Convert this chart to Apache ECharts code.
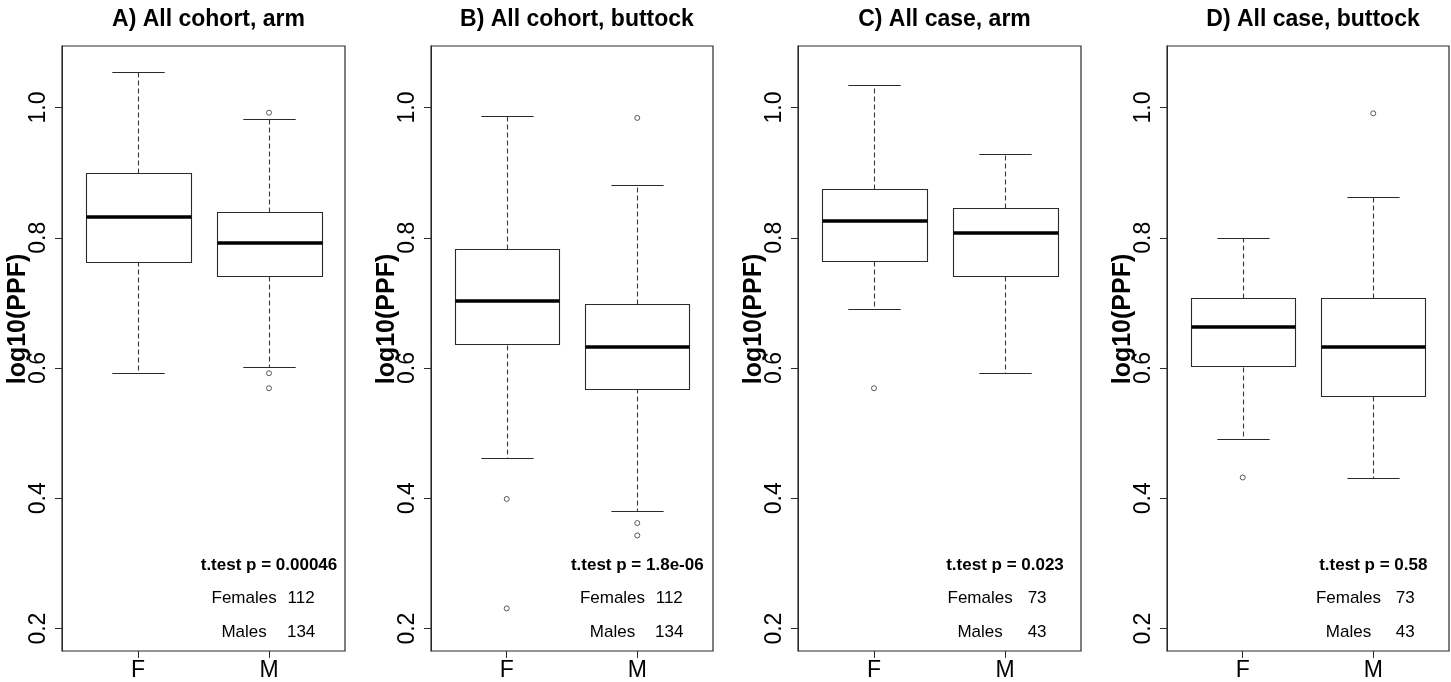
<!DOCTYPE html>
<html><head><meta charset="utf-8">
<script src="https://cdn.jsdelivr.net/npm/echarts@6/dist/echarts.min.js"></script>
<style>html,body{margin:0;padding:0;background:#fff}#c{width:1451px;height:682px}</style>
</head><body><div id="c"></div>
<script>
// ---------------- data ----------------
const categories = ['F', 'M'];
const panelTitles = ['A) All cohort, arm', 'B) All cohort, buttock', 'C) All case, arm', 'D) All case, buttock'];
const yTicks = [0.2, 0.4, 0.6, 0.8, 1.0];
const yLabel = 'log10(PPF)';

// [lower whisker, Q1, median, Q3, upper whisker]
const cohortArmF = [0.592, 0.764, 0.832, 0.900, 1.055];
const cohortArmM = [0.602, 0.741, 0.792, 0.839, 0.983];
const cohortArmOutF = [];
const cohortArmOutM = [0.992, 0.592, 0.569];

const cohortButtockF = [0.462, 0.636, 0.703, 0.782, 0.987];
const cohortButtockM = [0.380, 0.569, 0.633, 0.699, 0.881];
const cohortButtockOutF = [0.399, 0.231];
const cohortButtockOutM = [0.984, 0.362, 0.343];

const caseArmF = [0.691, 0.764, 0.826, 0.875, 1.034];
const caseArmM = [0.592, 0.741, 0.807, 0.845, 0.929];
const caseArmOutF = [0.569];
const caseArmOutM = [];

const caseButtockF = [0.491, 0.602, 0.663, 0.707, 0.799];
const caseButtockM = [0.431, 0.557, 0.633, 0.707, 0.863];
const caseButtockOutF = [0.432];
const caseButtockOutM = [0.991];

const pValues = ['0.00046', '1.8e-06', '0.023', '0.58'];
const femalesN = [112, 112, 73, 73];
const malesN = [134, 134, 43, 43];

// ---------------- layout ----------------
const FONT = "'Liberation Sans', Arial, Helvetica, sans-serif";
const gridLeft = [62, 431, 798, 1167];
const gridWidth = [283, 282, 283, 282];
const gridTop = 46, gridHeight = 609;
const yMin = 0.1656, yMax = 1.0944;
const xMin = 0.42, xMax = 2.58;
const LINE = '#2a2a2a';

const panels = [
  { f: cohortArmF, m: cohortArmM, of: cohortArmOutF, om: cohortArmOutM },
  { f: cohortButtockF, m: cohortButtockM, of: cohortButtockOutF, om: cohortButtockOutM },
  { f: caseArmF, m: caseArmM, of: caseArmOutF, om: caseArmOutM },
  { f: caseButtockF, m: caseButtockM, of: caseButtockOutF, om: caseButtockOutM }
];

function crisp(v) { return Math.round(v) + 0.5; }

function renderBox(params, api) {
  const x = api.value(0);
  const lo = api.coord([x, api.value(1)]);
  const q1 = api.coord([x, api.value(2)]);
  const md = api.coord([x, api.value(3)]);
  const q3 = api.coord([x, api.value(4)]);
  const hi = api.coord([x, api.value(5)]);
  const unit = api.size([1, 0])[0];
  const cx = crisp(lo[0]);
  const hw = unit * 0.4, cw = unit * 0.2;
  const solid = { stroke: LINE, lineWidth: 1.1, fill: null };
  const dashed = { stroke: '#3a3a3a', lineWidth: 1.1, lineDash: [5, 3], fill: null };
  return {
    type: 'group',
    children: [
      { type: 'line', shape: { x1: cx, y1: crisp(q3[1]), x2: cx, y2: crisp(hi[1]) }, style: dashed },
      { type: 'line', shape: { x1: cx, y1: crisp(q1[1]), x2: cx, y2: crisp(lo[1]) }, style: dashed },
      { type: 'line', shape: { x1: cx - cw, y1: crisp(hi[1]), x2: cx + cw, y2: crisp(hi[1]) }, style: solid },
      { type: 'line', shape: { x1: cx - cw, y1: crisp(lo[1]), x2: cx + cw, y2: crisp(lo[1]) }, style: solid },
      { type: 'rect', shape: { x: crisp(cx - hw), y: crisp(q3[1]), width: Math.round(2 * hw), height: Math.round(q1[1] - q3[1]) },
        style: { stroke: LINE, lineWidth: 1.1, fill: '#fff' } },
      { type: 'line', shape: { x1: crisp(cx - hw), y1: Math.round(md[1]), x2: crisp(cx - hw) + Math.round(2 * hw), y2: Math.round(md[1]) },
        style: { stroke: '#000', lineWidth: 3.5 } }
    ]
  };
}

function makeAnnot(i) {
  return function (params, api) {
    const t = api.coord([2, 0.297]);
    const fl = api.coord([1.81, 0.246]);
    const fn = api.coord([2.245, 0.246]);
    const ml = api.coord([1.81, 0.195]);
    const mn = api.coord([2.245, 0.195]);
    const base = { fill: '#000', align: 'center', verticalAlign: 'middle', fontFamily: FONT, fontSize: 17 };
    return {
      type: 'group',
      children: [
        { type: 'text', x: t[0], y: t[1], style: Object.assign({}, base, { text: 't.test p = ' + pValues[i], fontWeight: 'bold' }) },
        { type: 'text', x: fl[0], y: fl[1], style: Object.assign({}, base, { text: 'Females' }) },
        { type: 'text', x: fn[0], y: fn[1], style: Object.assign({}, base, { text: String(femalesN[i]) }) },
        { type: 'text', x: ml[0], y: ml[1], style: Object.assign({}, base, { text: 'Males' }) },
        { type: 'text', x: mn[0], y: mn[1], style: Object.assign({}, base, { text: String(malesN[i]) }) }
      ]
    };
  };
}

const grids = [], xAxes = [], yAxes = [], series = [], titles = [], graphics = [];
panels.forEach((p, i) => {
  grids.push({ left: gridLeft[i], top: gridTop, width: gridWidth[i], height: gridHeight,
    show: true, borderColor: LINE, borderWidth: 1.2, backgroundColor: 'transparent', containLabel: false });
  xAxes.push({
    type: 'value', gridIndex: i, min: xMin, max: xMax,
    splitLine: { show: false },
    axisLine: { show: false },
    axisTick: { show: true, customValues: [1, 2], length: 7, lineStyle: { color: LINE, width: 1 } },
    axisLabel: { show: true, customValues: [1, 2], formatter: v => categories[Math.round(v) - 1],
      fontSize: 23, color: '#000', fontFamily: FONT, margin: 8 }
  });
  yAxes.push({
    type: 'value', gridIndex: i, min: yMin, max: yMax,
    splitLine: { show: false },
    axisLine: { show: true, lineStyle: { color: LINE, width: 1 } },
    axisTick: { show: true, customValues: yTicks, length: 7, lineStyle: { color: LINE, width: 1 } },
    axisLabel: { show: true, customValues: yTicks, formatter: v => v.toFixed(1), rotate: 90,
      fontSize: 23, color: '#000', fontFamily: FONT, margin: 12 }
  });
  series.push({
    type: 'custom', xAxisIndex: i, yAxisIndex: i, renderItem: renderBox, clip: false,
    encode: { x: 0, y: [1, 2, 3, 4, 5] },
    data: [[1].concat(p.f), [2].concat(p.m)], silent: true, z: 2
  });
  series.push({
    type: 'scatter', xAxisIndex: i, yAxisIndex: i, symbol: 'circle', symbolSize: 5,
    itemStyle: { color: '#fff', borderColor: '#333', borderWidth: 1 },
    data: p.of.map(v => [1, v]).concat(p.om.map(v => [2, v])), silent: true, z: 5
  });
  series.push({
    type: 'custom', xAxisIndex: i, yAxisIndex: i, renderItem: makeAnnot(i), clip: false,
    data: [[2, 0.3]], silent: true, z: 4
  });
  titles.push({
    text: panelTitles[i], left: gridLeft[i] + gridWidth[i] / 2, top: 3, textAlign: 'center',
    textStyle: { fontSize: 23, fontWeight: 'bold', color: '#000', fontFamily: FONT }
  });
  graphics.push({
    type: 'text', x: gridLeft[i] - 44, y: 319, rotation: Math.PI / 2,
    style: { text: yLabel, fontSize: 25, fontWeight: 'bold', fill: '#000', fontFamily: FONT,
      align: 'center', verticalAlign: 'middle' }
  });
});

const chart = echarts.init(document.getElementById('c'), null, { renderer: 'canvas' });
chart.setOption({
  animation: false,
  backgroundColor: '#fff',
  title: titles,
  grid: grids,
  xAxis: xAxes,
  yAxis: yAxes,
  series: series,
  graphic: graphics
});
</script></body></html>
